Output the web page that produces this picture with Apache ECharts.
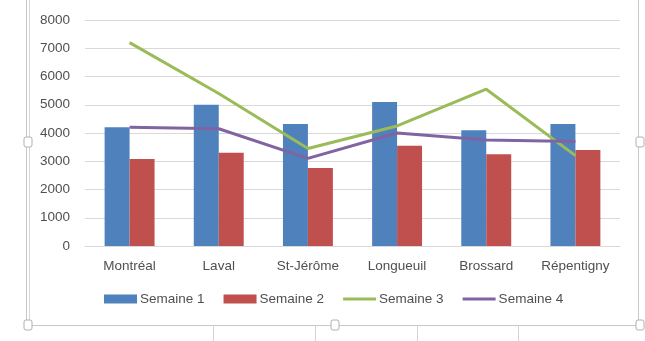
<html lang="fr">
<head>
<meta charset="UTF-8">
<title>Ventes par semaine</title>
<script src="https://cdn.jsdelivr.net/npm/echarts@6/dist/echarts.min.js"></script>
<style>
    body { margin: 0; background: #ffffff; }
    #Chart1 { width: 645px; height: 341px; }
</style>
</head>
<body>
<div id="Chart1"></div>
<script>
// data
let categories = ['Montréal', 'Laval', 'St-Jérôme', 'Longueuil', 'Brossard', 'Répentigny'];
let semaine1 = [4200, 5000, 4320, 5100, 4100, 4320];
let semaine2 = [3080, 3300, 2760, 3550, 3250, 3400];
let semaine3 = [7200, 5400, 3450, 4250, 5550, 3200];
let semaine4 = [4200, 4150, 3100, 4000, 3750, 3700];
let yTicks = [0, 1000, 2000, 3000, 4000, 5000, 6000, 7000, 8000];

let textColor = '#505050';
let fontFam = '"Liberation Sans", Arial, sans-serif';
// thin bar inside a 33x9 box, used as legend icon for the line series
let lineIcon = 'path://M0,0h0.01v0.01h-0.01z M0,3h33v3h-33z M33,9h-0.01v-0.01h0.01z';

let myChart1 = echarts.init(document.getElementById('Chart1'));

// Excel frame + handles (decoration only)
function handle(x, y) {
    return {
        type: 'rect',
        shape: { x: x - 4, y: y - 5, width: 8, height: 10, r: 2 },
        style: { fill: '#ffffff', stroke: '#b0b0b0', lineWidth: 1 },
        z: 10
    };
}
let frame = [
    { type: 'line', shape: { x1: 26.5, y1: 0, x2: 26.5, y2: 325 }, style: { stroke: '#c8c8c8', lineWidth: 1 } },
    { type: 'line', shape: { x1: 29.5, y1: 0, x2: 29.5, y2: 325 }, style: { stroke: '#d8d8d8', lineWidth: 1 } },
    { type: 'line', shape: { x1: 28, y1: 325.5, x2: 639, y2: 325.5 }, style: { stroke: '#c8c8c8', lineWidth: 1 } },
    { type: 'line', shape: { x1: 638.5, y1: 0, x2: 638.5, y2: 325 }, style: { stroke: '#c8c8c8', lineWidth: 1 } },
    { type: 'line', shape: { x1: 213.5, y1: 326, x2: 213.5, y2: 341 }, style: { stroke: '#d4d4d4', lineWidth: 1 } },
    { type: 'line', shape: { x1: 315.5, y1: 326, x2: 315.5, y2: 341 }, style: { stroke: '#d4d4d4', lineWidth: 1 } },
    { type: 'line', shape: { x1: 417.5, y1: 326, x2: 417.5, y2: 341 }, style: { stroke: '#d4d4d4', lineWidth: 1 } },
    { type: 'line', shape: { x1: 518.5, y1: 326, x2: 518.5, y2: 341 }, style: { stroke: '#d4d4d4', lineWidth: 1 } },
    handle(28, 142), handle(28, 325), handle(335, 325), handle(640, 142), handle(640, 325)
];

let option = {
    animation: false,
    backgroundColor: '#ffffff',
    textStyle: { fontFamily: fontFam },
    graphic: frame,
    grid: { left: 85, right: 25, top: 20, bottom: 95 },
    legend: {
        left: 99,
        top: 287,
        itemWidth: 33,
        itemHeight: 9,
        itemGap: 19,
        textStyle: { color: textColor, fontSize: 13.5, fontFamily: fontFam, padding: [0, 0, 0, -2] },
        data: [
            { name: 'Semaine 1', icon: 'rect' },
            { name: 'Semaine 2', icon: 'rect' },
            { name: 'Semaine 3', icon: lineIcon },
            { name: 'Semaine 4', icon: lineIcon }
        ]
    },
    xAxis: {
        type: 'category',
        data: categories,
        axisLine: { lineStyle: { color: '#d9d9d9' } },
        axisTick: { show: false },
        axisLabel: { color: textColor, fontSize: 13.5, margin: 13, interval: 0 }
    },
    yAxis: {
        type: 'value',
        min: yTicks[0],
        max: yTicks[yTicks.length - 1],
        interval: 1000,
        axisLine: { show: false },
        axisTick: { show: false },
        splitLine: { lineStyle: { color: '#d9d9d9' } },
        axisLabel: {
            color: textColor, fontSize: 13.5, margin: 15,
            formatter: function (v) { return String(v); }
        }
    },
    series: [
        {
            name: 'Semaine 1', type: 'bar', data: semaine1,
            barGap: '0%', barCategoryGap: '44%',
            itemStyle: { color: '#4f81bd' }
        },
        {
            name: 'Semaine 2', type: 'bar', data: semaine2,
            barGap: '0%', barCategoryGap: '44%',
            itemStyle: { color: '#c0504d' }
        },
        {
            name: 'Semaine 3', type: 'line', data: semaine3,
            symbol: 'none',
            lineStyle: { color: '#9bbb59', width: 3 },
            itemStyle: { color: '#9bbb59' }
        },
        {
            name: 'Semaine 4', type: 'line', data: semaine4,
            symbol: 'none',
            lineStyle: { color: '#8064a2', width: 3 },
            itemStyle: { color: '#8064a2' }
        }
    ]
};
myChart1.setOption(option);
</script>
</body>
</html>
